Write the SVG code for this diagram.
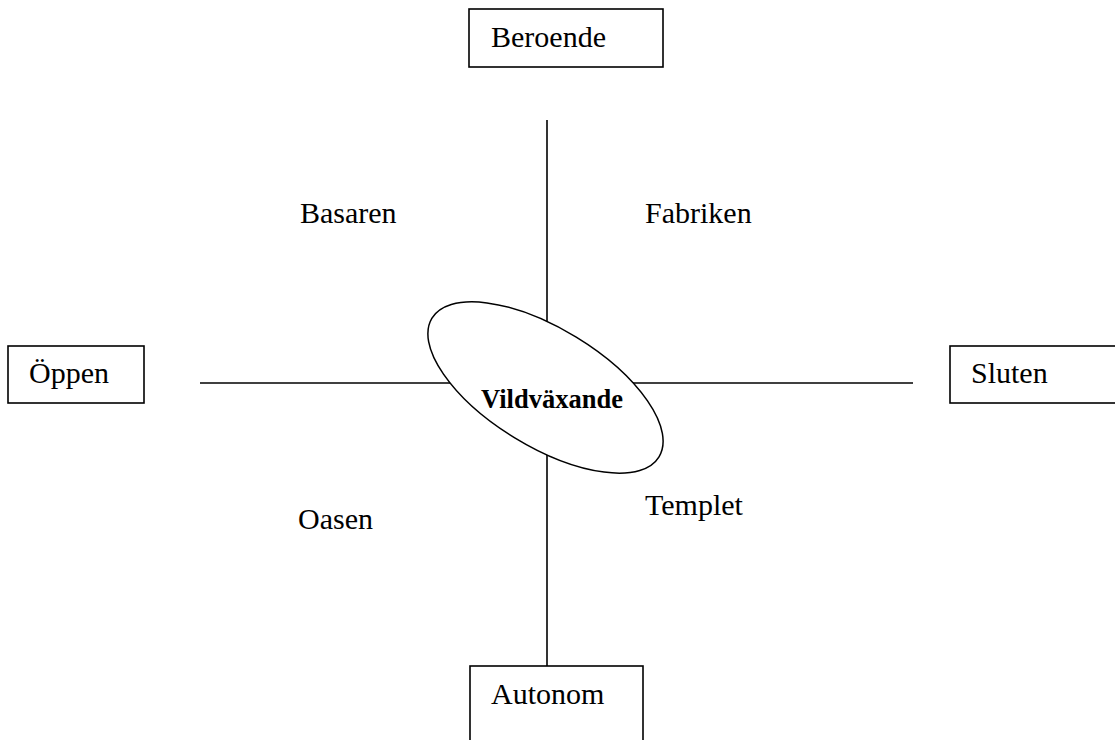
<svg xmlns="http://www.w3.org/2000/svg" width="1115" height="740" viewBox="0 0 1115 740">
<style>
.box{fill:#fff;stroke:#000;stroke-width:1.6}
.ln{stroke:#000;stroke-width:1.6;fill:none}
.t{font-family:"Liberation Serif","Times New Roman",serif;font-size:30px;fill:#000}
.tb{font-family:"Liberation Serif","Times New Roman",serif;font-size:26.5px;font-weight:bold;fill:#000}
</style>
<rect width="1115" height="740" fill="#fff"/>
<g id="connectors">
<line class="ln" x1="547" y1="120" x2="547" y2="666"/>
<line class="ln" x1="200" y1="383" x2="913" y2="383"/>
</g>
<g id="center">
<ellipse cx="545.5" cy="387.5" rx="133" ry="59" transform="rotate(31.4 545.5 387.5)" fill="#fff" stroke="#000" stroke-width="1.5"/>
<text class="tb" x="552" y="407.5" text-anchor="middle">Vildväxande</text>
</g>
<g id="beroende">
<rect class="box" x="469" y="9" width="194" height="58"/>
<text class="t" x="491" y="47">Beroende</text>
</g>
<g id="oppen">
<rect class="box" x="8" y="346" width="136" height="57"/>
<text class="t" x="29" y="383">Öppen</text>
</g>
<g id="sluten">
<rect class="box" x="950" y="346" width="170" height="57"/>
<text class="t" x="971" y="383">Sluten</text>
</g>
<g id="autonom">
<rect class="box" x="470" y="666" width="173" height="80"/>
<text class="t" x="491" y="704">Autonom</text>
</g>
<g id="labels">
<text class="t" x="300" y="223">Basaren</text>
<text class="t" x="645" y="223">Fabriken</text>
<text class="t" x="298" y="529">Oasen</text>
<text class="t" x="645" y="515">Templet</text>
</g>
</svg>
